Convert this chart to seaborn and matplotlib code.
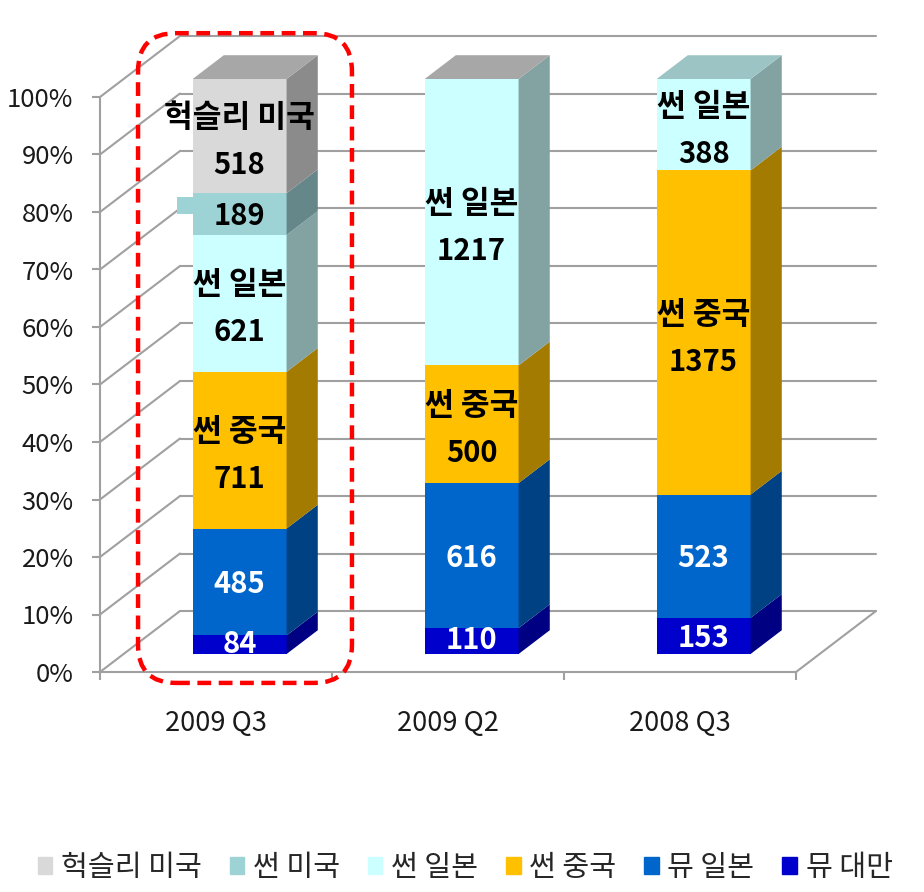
import matplotlib
matplotlib.use("Agg")
import matplotlib.pyplot as plt
import matplotlib.transforms as mtransforms
from matplotlib.colors import to_rgb
from matplotlib.patches import Polygon, Rectangle, FancyBboxPatch
import numpy as np
import pandas as pd
import seaborn as sns

# Data (bottom segment first)
quarters = ["2009 Q3", "2009 Q2", "2008 Q3"]
series = ["뮤 대만", "뮤 일본", "썬 중국", "썬 일본", "썬 미국", "헉슬리 미국"]
colors = ["#0000CC", "#0066CC", "#FFC000", "#CCFFFF", "#9ED3D6", "#D9D9D9"]
mu_taiwan = [84, 110, 153]
mu_japan = [485, 616, 523]
sun_china = [711, 500, 1375]
sun_japan = [621, 1217, 388]
sun_usa = [189, 0, np.nan]
huxley_usa = [518, 0, np.nan]
show_name = [False, False, True, True, False, True]
label_colors = ["white", "white", "black", "black", "black", "black"]

values = pd.DataFrame(
    np.array([mu_taiwan, mu_japan, sun_china, sun_japan, sun_usa, huxley_usa]).T,
    index=quarters, columns=series)
pct = values.div(values.sum(axis=1), axis=0) * 100
cum = pct.fillna(0).cumsum(axis=1).where(pct.notna())
base = cum - pct

# 3D look: depth vector in data units, bar front/back depth, bar width
DX, DY = 80 / 232, 61 / 5.75
D0, D1 = 0.295, 0.685
W = 0.405
GRID = "#A0A0A0"


def depth(x, y, d):
    return (x + d * DX, y + d * DY)


def shade(c, f):
    return tuple(v * f for v in to_rgb(c))


sns.set_theme(style="white")
plt.rcParams['font.family'] = ['Noto Sans CJK KR', 'DejaVu Sans']

fig = plt.figure(figsize=(9.24, 8.92), dpi=100)
ax = fig.add_axes([100 / 924, 220 / 892, 696 / 924, 575 / 892])

# walls and floor
for k in range(0, 101, 10):
    ax.plot([-0.5 + DX, 2.5 + DX], [k + DY, k + DY], color=GRID, lw=1.5, clip_on=False, zorder=0.5)
    ax.plot([-0.5, -0.5 + DX], [k, k + DY], color=GRID, lw=1.5, clip_on=False, zorder=0.5)
ax.plot([2.5, 2.5 + DX], [0, DY], color=GRID, lw=1.5, clip_on=False, zorder=0.5)

# front faces: cumulative bars drawn from the top series down
for i in reversed(range(len(series))):
    sns.barplot(x=quarters, y=cum[series[i]].values, order=quarters, color=colors[i],
                saturation=1, width=W, errorbar=None, linewidth=0, ax=ax, zorder=2)

shift = mtransforms.Affine2D().translate(D0 * DX, D0 * DY) + ax.transData
for p in ax.patches:
    p.set_transform(shift)
    p.set_clip_on(False)

# side faces, top faces, labels
for j, q in enumerate(quarters):
    xl, xr = j - W / 2, j + W / 2
    top_i = max(i for i in range(len(series)) if pd.notna(pct.loc[q, series[i]]))
    for i, s in enumerate(series):
        v = pct.loc[q, s]
        if pd.isna(v) or v <= 0:
            continue
        y0, y1 = base.loc[q, s], cum.loc[q, s]
        side = [depth(xr, y0, D0), depth(xr, y1, D0), depth(xr, y1, D1), depth(xr, y0, D1)]
        ax.add_patch(Polygon(side, closed=True, facecolor=shade(colors[i], 0.64),
                             edgecolor="none", clip_on=False, zorder=2))
        cx, cy = depth(j, (y0 + y1) / 2, D0)
        txt = f"{int(values.loc[q, s])}"
        kw = dict(ha="center", va="center", fontweight="bold",
                  color=label_colors[i], textcoords="offset pixels", zorder=5,
                  annotation_clip=False)
        if show_name[i]:
            ax.annotate(s, (cx, cy), xytext=(0, 18), fontsize=22.5, **kw)
            ax.annotate(txt, (cx, cy), xytext=(0, -29), fontsize=21, **kw)
        else:
            ax.annotate(txt, (cx, cy), xytext=(0, -2 if v > 5 else 1), fontsize=21, **kw)
        if s == "썬 미국":
            # stray label fill left of the bar
            rx, ry = depth(xl, y1 - 3.65, D0)
            ax.add_patch(Rectangle((rx - 16 / 232, ry), 16 / 232, 2.95,
                                   facecolor=colors[i], edgecolor="none",
                                   clip_on=False, zorder=2))
    ytop = cum.loc[q, series[top_i]]
    topf = [depth(xl, ytop, D0), depth(xr, ytop, D0), depth(xr, ytop, D1), depth(xl, ytop, D1)]
    ax.add_patch(Polygon(topf, closed=True, facecolor=shade(colors[top_i], 0.77),
                         edgecolor="none", clip_on=False, zorder=2))

# axes styling
ax.set_xlim(-0.5, 2.5)
ax.set_ylim(0, 100)
ax.set_yticks(range(0, 101, 10))
ax.set_yticklabels([f"{k}%" for k in range(0, 101, 10)])
ax.set_xticks(range(len(quarters)))
ax.set_xticklabels(quarters)
ax.set_xticks([-0.5, 0.5, 1.5, 2.5], minor=True)
ax.tick_params(axis="y", length=6, width=1.5, color=GRID, pad=13, labelsize=18.5, labelcolor="#1a1a1a", left=True)
ax.tick_params(axis="x", which="major", length=0, pad=27, labelsize=19.5, labelcolor="#1a1a1a")
ax.tick_params(axis="x", which="minor", length=6, width=1.5, color=GRID, bottom=True)
for side in ["top", "right"]:
    ax.spines[side].set_visible(False)
for side in ["left", "bottom"]:
    ax.spines[side].set_color(GRID)
    ax.spines[side].set_linewidth(1.5)
ax.patch.set_alpha(0)
ax.set_xlabel("")
ax.set_ylabel("")

# highlight box around 2009 Q3
fig.canvas.draw()
(bx0, by0), (bx1, by1) = ax.transData.transform([(-0.336, -1.9), (0.586, 111.1)])
ax.add_artist(FancyBboxPatch((bx0, by0), bx1 - bx0, by1 - by0,
                             boxstyle="round,pad=0,rounding_size=38",
                             transform=mtransforms.IdentityTransform(),
                             fill=False, edgecolor="#FF0000", linewidth=3.2,
                             linestyle=(0, (3.1, 1.7)), clip_on=False, zorder=6))

# legend
handles = [Rectangle((0, 0), 1, 1, color=colors[i]) for i in reversed(range(len(series)))]
fig.legend(handles, list(reversed(series)), loc="center left",
           bbox_to_anchor=(26 / 924, 1 - 868 / 892), ncol=6, frameon=False,
           fontsize=21, handlelength=0.5, handleheight=0.5, handletextpad=0.3,
           columnspacing=0.95, borderaxespad=0)

fig.savefig("out.png", dpi=100)
